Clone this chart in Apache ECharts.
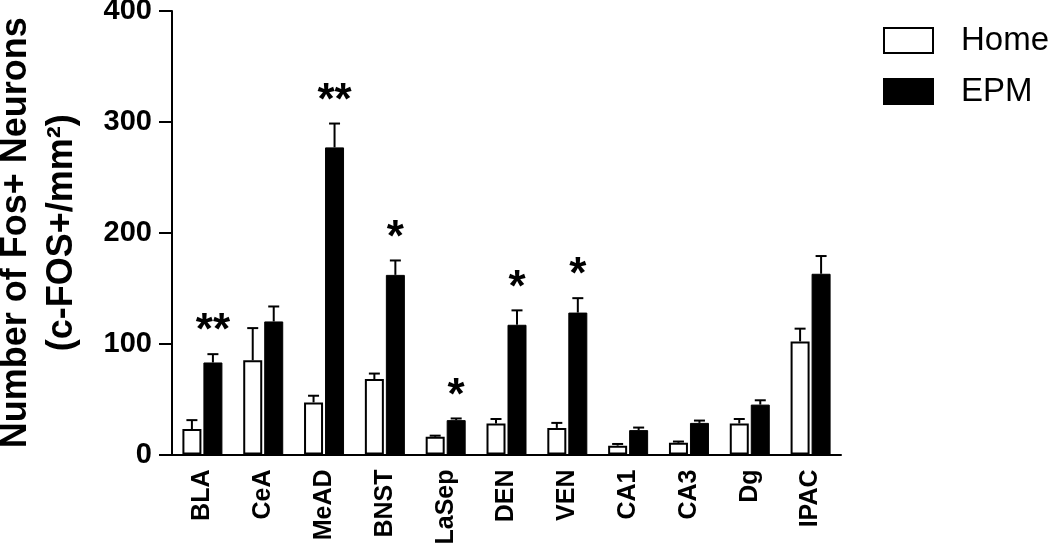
<!DOCTYPE html>
<html>
<head>
<meta charset="utf-8">
<script src="https://cdn.jsdelivr.net/npm/echarts@6/dist/echarts.min.js"></script>
<style>
  html, body { margin: 0; padding: 0; background: #fff; }
  #chart { width: 1050px; height: 553px; }
</style>
</head>
<body>
<div id="chart"></div>
<script>
// ---- data ----
const categories = ['BLA', 'CeA', 'MeAD', 'BNST', 'LaSep', 'DEN', 'VEN', 'CA1', 'CA3', 'Dg', 'IPAC'];
const homeMean = [23, 85, 47, 68, 16, 28, 24, 8, 10.5, 28, 102];
const homeSem  = [8, 29, 6, 5, 1, 4, 4.5, 1.5, 1.2, 4, 11.5];
const epmMean  = [83, 120, 277, 162, 31, 117, 128, 22, 28.5, 45, 163];
const epmSem   = [7.5, 13.5, 21.5, 13, 1.5, 13, 13, 2.3, 2.1, 3.9, 16];
const epmSig   = ['**', '', '**', '*', '*', '*', '*', '', '', '', ''];
const yTicks   = [0, 100, 200, 300, 400];

// ---- styling constants ----
const FONT = '"Liberation Sans", Arial, Helvetica, sans-serif';
const BAR_W = 19;
const BAR_GAP_PX = 2;
const OFFSET = (BAR_W + BAR_GAP_PX) / 2;
const CAP = 11;

function errorSeries(name, means, sems, dir, sig) {
  const data = means.map((m, i) => [i, m, m + sems[i], sig ? sig[i] : '']);
  return {
    type: 'custom',
    name: name + ' err',
    z: 5,
    silent: true,
    data: data,
    renderItem: function (params, api) {
      const i = api.value(0);
      const c = api.coord([i, api.value(1)]);
      const t = api.coord([i, api.value(2)]);
      const x = c[0] + dir * OFFSET;
      const children = [
        { type: 'line', shape: { x1: x, y1: c[1], x2: x, y2: t[1] }, style: { stroke: '#000', lineWidth: 2 } },
        { type: 'line', shape: { x1: x - CAP / 2, y1: t[1], x2: x + CAP / 2, y2: t[1] }, style: { stroke: '#000', lineWidth: 2 } }
      ];
      const s = data[params.dataIndex][3];
      if (s) {
        children.push({
          type: 'text',
          style: {
            text: s, x: x, y: t[1] - 22,
            align: 'center', verticalAlign: 'middle',
            font: 'bold 44px ' + FONT, fill: '#000'
          }
        });
      }
      return { type: 'group', children: children };
    }
  };
}

const chart = echarts.init(document.getElementById('chart'));
chart.setOption({
  animation: false,
  backgroundColor: '#fff',
  grid: { left: 172, top: 11, width: 669, height: 443.5, outerBoundsMode: 'none', containLabel: false },
  legend: {
    orient: 'vertical',
    left: 883, top: 24, padding: 0,
    itemWidth: 49, itemHeight: 25, itemGap: 18,
    icon: 'rect',
    data: ['Home', 'EPM'],
    textStyle: { fontSize: 33, lineHeight: 33, color: '#000', fontFamily: FONT, padding: [0, 0, 0, 23] }
  },
  xAxis: {
    type: 'category',
    data: categories,
    axisTick: { show: false },
    axisLine: { lineStyle: { color: '#000', width: 2 } },
    axisLabel: {
      rotate: 90, margin: 15, color: '#000', fontSize: 25, fontWeight: 'bold',
      fontFamily: FONT, interval: 0
    }
  },
  yAxis: {
    type: 'value',
    min: yTicks[0], max: yTicks[yTicks.length - 1], interval: 100,
    splitLine: { show: false },
    axisLine: { show: true, lineStyle: { color: '#000', width: 2 } },
    axisTick: { show: true, length: 13, lineStyle: { color: '#000', width: 2 } },
    axisLabel: {
      margin: 20, color: '#000', fontSize: 29, fontWeight: 'bold', fontFamily: FONT
    },
    name: 'Number of Fos+ Neurons\n(c-FOS+/mm²)',
    nameLocation: 'middle',
    nameRotate: 90,
    nameGap: 87,
    nameTextStyle: {
      color: '#000', fontSize: 36, fontWeight: 'bold', lineHeight: 46, fontFamily: FONT
    }
  },
  series: [
    {
      name: 'Home', type: 'bar', data: homeMean,
      barWidth: BAR_W, barGap: (BAR_GAP_PX / BAR_W * 100) + '%',
      itemStyle: { color: '#fff', borderColor: '#000', borderWidth: 2 }
    },
    {
      name: 'EPM', type: 'bar', data: epmMean,
      barWidth: BAR_W,
      itemStyle: { color: '#000', borderColor: '#000', borderWidth: 1 }
    },
    errorSeries('Home', homeMean, homeSem, -1, null),
    errorSeries('EPM', epmMean, epmSem, 1, epmSig)
  ]
});
</script>
</body>
</html>
